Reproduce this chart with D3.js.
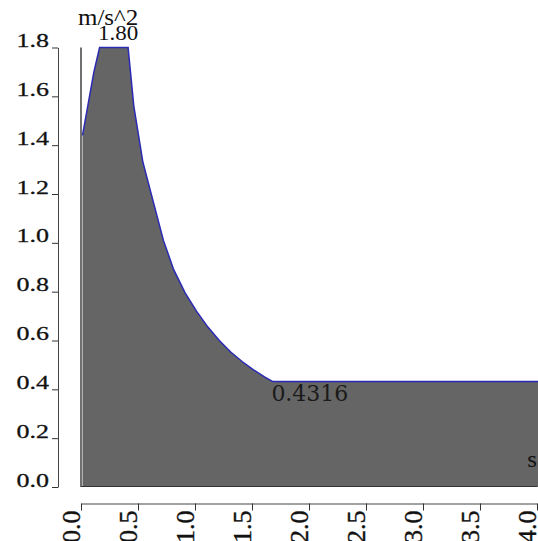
<!DOCTYPE html>
<html>
<head>
<meta charset="utf-8">
<script src="https://cdn.jsdelivr.net/npm/d3@7"></script>
<style>
  body { margin: 0; background: #fff; }
  svg { display: block; }
</style>
</head>
<body>
<script>
// response spectrum
const periods = [0, 0.10, 0.15, 0.40, 0.45, 0.53, 0.62, 0.71, 0.80, 0.90, 1.00, 1.10, 1.20, 1.30, 1.40, 1.50, 1.60, 1.67, 4.0];
const accel   = [1.44, 1.70, 1.80, 1.80, 1.56, 1.33, 1.17, 1.01, 0.89, 0.795, 0.72, 0.655, 0.60, 0.553, 0.514, 0.48, 0.45, 0.4316, 0.4316];
const xTicks  = [0, 0.5, 1.0, 1.5, 2.0, 2.5, 3.0, 3.5, 4.0];
const yTicks  = [0, 0.2, 0.4, 0.6, 0.8, 1.0, 1.2, 1.4, 1.6, 1.8];
const peakLabel = "1.80";
const tailLabel = "0.4316";
const yUnit = "m/s^2";
const xUnit = "s";

const width = 538, height = 541;
const serif = "'Liberation Serif', 'Times New Roman', serif";

const x = d3.scaleLinear().domain([0, 4]).range([81, 537]);
const y = d3.scaleLinear().domain([0, 1.8]).range([487, 47.5]);

const points = periods.map((t, i) => [t, accel[i]]);

const svg = d3.select("body")
	.append("svg")
	.attr("width", width)
	.attr("height", height);

// filled spectrum
const area = d3.area()
	.x(d => x(d[0]) + 1.5)
	.y0(y(0))
	.y1(d => y(d[1]));

svg.append("path")
	.datum(points)
	.attr("d", area)
	.attr("fill", "#656565");

svg.append("path")
	.datum(points)
	.attr("d", d3.line().x(d => x(d[0]) + 1.5).y(d => y(d[1])))
	.attr("fill", "none")
	.attr("stroke", "#2a2ab4")
	.attr("stroke-width", 1.5);

// plot frame: left and bottom edges
svg.append("line")
	.attr("x1", x(0)).attr("x2", x(0))
	.attr("y1", y(1.8)).attr("y2", y(0))
	.attr("stroke", "#111").attr("stroke-width", 1.2);
svg.append("line")
	.attr("x1", x(0)).attr("x2", x(4))
	.attr("y1", y(0) - 0.5).attr("y2", y(0) - 0.5)
	.attr("stroke", "#333").attr("stroke-width", 1.2);

// y axis
const yAxis = svg.append("g")
	.attr("transform", "translate(58,0)")
	.call(d3.axisLeft(y).tickValues(yTicks).tickSize(6).tickSizeOuter(0).tickFormat(d3.format(".1f")));
yAxis.select(".domain").attr("stroke", "#444");
yAxis.selectAll(".tick line").attr("stroke", "#333");
yAxis.selectAll(".tick text")
	.attr("x", null).attr("dy", null)
	.attr("transform", "translate(-9,-1) scale(1,0.7)")
	.attr("fill", "#111")
	.attr("stroke", "#111").attr("stroke-width", 0.4)
	.style("font-family", serif)
	.style("font-size", "26px");

// x axis
const xAxis = svg.append("g")
	.attr("transform", "translate(0,503.5)")
	.call(d3.axisBottom(x).tickValues(xTicks).tickSize(7).tickSizeOuter(0).tickFormat(d3.format(".1f")));
xAxis.select(".domain").attr("stroke", "#444");
xAxis.selectAll(".tick line").attr("stroke", "#333");
xAxis.selectAll(".tick text")
	.attr("y", null).attr("dy", null)
	.attr("text-anchor", "end")
	.attr("transform", "translate(-2,7) rotate(-90)")
	.attr("fill", "#111")
	.attr("stroke", "#111").attr("stroke-width", 0.4)
	.style("font-family", serif)
	.style("font-size", "26px");

// units and value labels
svg.append("text")
	.attr("transform", "translate(78,25) scale(1,0.9)")
	.style("font-family", serif).style("font-size", "25px")
	.attr("fill", "#111")
	.text(yUnit);

svg.append("text")
	.attr("transform", `translate(${x(0.15)},${y(1.8) - 8}) scale(1,0.9)`)
	.style("font-family", serif).style("font-size", "23px")
	.attr("fill", "#111")
	.text(peakLabel);

svg.append("text")
	.attr("x", x(1.67)).attr("y", y(0.4316) + 19)
	.style("font-family", "'DejaVu Serif', serif").style("font-size", "22px")
	.attr("fill", "#1a1a1a")
	.text(tailLabel);

svg.append("text")
	.attr("transform", "translate(537,467) scale(1,0.9)")
	.attr("text-anchor", "end")
	.style("font-family", serif).style("font-size", "25px")
	.attr("fill", "#111")
	.text(xUnit);
</script>
</body>
</html>
